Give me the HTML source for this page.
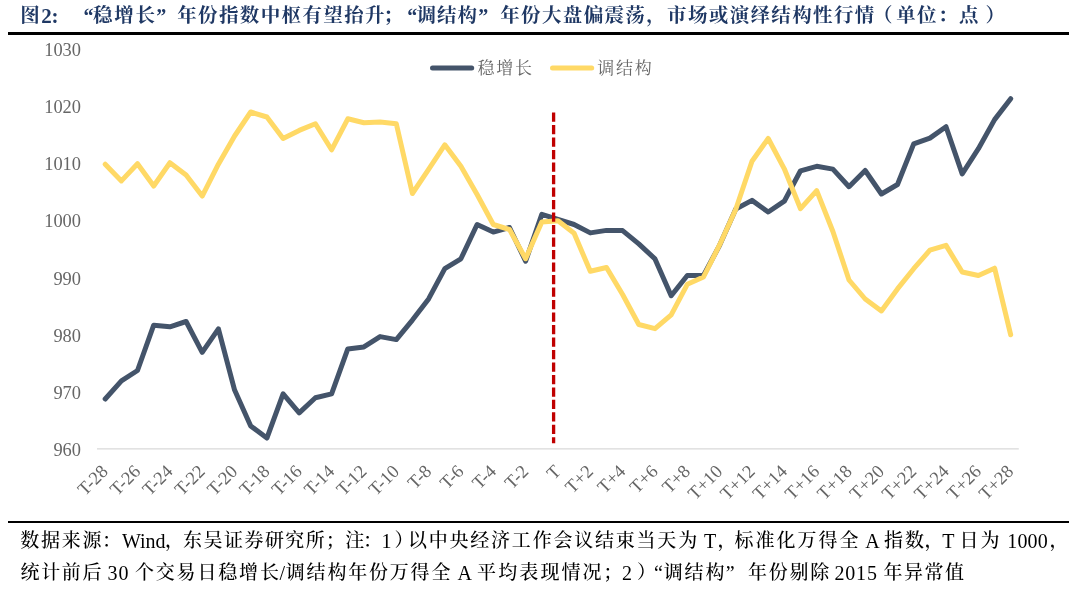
<!DOCTYPE html>
<html lang="zh-CN"><head><meta charset="utf-8"><title>图2</title>
<style>
html,body{margin:0;padding:0;background:#fff;}
body{width:1080px;height:594px;position:relative;overflow:hidden;font-family:"Liberation Serif","Noto Serif CJK SC",serif;}
.ln{position:absolute;left:0;width:1080px;white-space:nowrap;}
.ln span{position:absolute;top:0;white-space:nowrap;}
.title{top:2px;height:28px;line-height:28px;font-size:19.5px;font-weight:bold;color:#1f3864;}
.rule{position:absolute;left:8.3px;width:1061.1px;height:3px;background:#000;}
.foot{font-size:19px;color:#000;font-weight:500;line-height:24px;height:24px;}
svg{position:absolute;left:0;top:0;}
svg text{font-family:"Liberation Serif","Noto Serif CJK SC",serif;font-size:18.4px;fill:#666;}
</style></head><body>
<div class="ln title"><span style="left:20.2px;">图</span><span style="left:41.2px;font-size:21px;">2</span><span style="left:51.5px;font-size:21px;">:</span><span style="left:83.5px;font-size:20px;">“</span><span style="left:93.1px;letter-spacing:1.7px;">稳增长</span><span style="left:156.3px;font-size:20px;">”</span><span style="left:177.2px;letter-spacing:1.37px;">年份指数中枢有望抬升</span><span style="left:383.3px;">；</span><span style="left:407.2px;font-size:20px;">“</span><span style="left:416.6px;letter-spacing:1.0px;">调结构</span><span style="left:478.2px;font-size:20px;">”</span><span style="left:500.2px;letter-spacing:1.36px;">年份大盘偏震荡，市场或演绎结构性行情</span><span style="left:873.1px;">（</span><span style="left:896.2px;letter-spacing:1.43px;">单位：点</span><span style="left:985.4px;">）</span></div>
<div class="rule" style="top:32px"></div>
<svg width="1080" height="594" viewBox="0 0 1080 594">
<line x1="97" y1="448.8" x2="1018.8" y2="448.8" stroke="#d9d9d9" stroke-width="1.3"/>
<g style="font-size:18px"><text x="81" y="55.9" text-anchor="end">1030</text><text x="81" y="113.0" text-anchor="end">1020</text><text x="81" y="170.2" text-anchor="end">1010</text><text x="81" y="227.3" text-anchor="end">1000</text><text x="81" y="284.5" text-anchor="end">990</text><text x="81" y="341.6" text-anchor="end">980</text><text x="81" y="398.8" text-anchor="end">970</text><text x="81" y="455.9" text-anchor="end">960</text></g>
<g><text transform="translate(109.1,472.5) rotate(-45)" text-anchor="end">T-28</text><text transform="translate(141.4,472.5) rotate(-45)" text-anchor="end">T-26</text><text transform="translate(173.8,472.5) rotate(-45)" text-anchor="end">T-24</text><text transform="translate(206.1,472.5) rotate(-45)" text-anchor="end">T-22</text><text transform="translate(238.5,472.5) rotate(-45)" text-anchor="end">T-20</text><text transform="translate(270.8,472.5) rotate(-45)" text-anchor="end">T-18</text><text transform="translate(303.1,472.5) rotate(-45)" text-anchor="end">T-16</text><text transform="translate(335.5,472.5) rotate(-45)" text-anchor="end">T-14</text><text transform="translate(367.8,472.5) rotate(-45)" text-anchor="end">T-12</text><text transform="translate(400.2,472.5) rotate(-45)" text-anchor="end">T-10</text><text transform="translate(432.5,472.5) rotate(-45)" text-anchor="end">T-8</text><text transform="translate(464.8,472.5) rotate(-45)" text-anchor="end">T-6</text><text transform="translate(497.2,472.5) rotate(-45)" text-anchor="end">T-4</text><text transform="translate(529.5,472.5) rotate(-45)" text-anchor="end">T-2</text><text transform="translate(561.9,472.5) rotate(-45)" text-anchor="end">T</text><text transform="translate(594.2,472.5) rotate(-45)" text-anchor="end">T+2</text><text transform="translate(626.5,472.5) rotate(-45)" text-anchor="end">T+4</text><text transform="translate(658.9,472.5) rotate(-45)" text-anchor="end">T+6</text><text transform="translate(691.2,472.5) rotate(-45)" text-anchor="end">T+8</text><text transform="translate(723.6,472.5) rotate(-45)" text-anchor="end">T+10</text><text transform="translate(755.9,472.5) rotate(-45)" text-anchor="end">T+12</text><text transform="translate(788.2,472.5) rotate(-45)" text-anchor="end">T+14</text><text transform="translate(820.6,472.5) rotate(-45)" text-anchor="end">T+16</text><text transform="translate(852.9,472.5) rotate(-45)" text-anchor="end">T+18</text><text transform="translate(885.3,472.5) rotate(-45)" text-anchor="end">T+20</text><text transform="translate(917.6,472.5) rotate(-45)" text-anchor="end">T+22</text><text transform="translate(949.9,472.5) rotate(-45)" text-anchor="end">T+24</text><text transform="translate(982.3,472.5) rotate(-45)" text-anchor="end">T+26</text><text transform="translate(1014.6,472.5) rotate(-45)" text-anchor="end">T+28</text></g>
<polyline points="105.2,399.0 121.4,380.8 137.5,370.5 153.7,325.2 169.9,326.8 186.1,321.5 202.2,352.3 218.4,328.8 234.6,390.1 250.7,426.0 266.9,438.1 283.1,393.9 299.2,412.9 315.4,397.7 331.6,393.9 347.8,348.9 363.9,346.9 380.1,336.6 396.3,339.6 412.4,320.1 428.6,298.9 444.8,268.6 460.9,258.8 477.1,224.5 493.3,232.1 509.5,227.5 525.6,261.2 541.8,214.4 558.0,219.4 574.1,224.5 590.3,232.9 606.5,230.4 622.6,230.6 638.8,243.9 655.0,258.9 671.2,295.7 687.3,275.5 703.5,275.5 719.7,245.1 735.8,209.0 752.0,200.4 768.2,212.0 784.3,201.2 800.5,170.8 816.7,166.3 832.9,169.1 849.0,186.7 865.2,170.5 881.4,194.0 897.5,184.5 913.7,143.9 929.9,138.1 946.0,126.7 962.2,173.9 978.4,148.7 994.6,119.6 1010.7,98.7" fill="none" stroke="#44546a" stroke-width="5" stroke-linejoin="round" stroke-linecap="round"/>
<polyline points="105.2,164.2 121.4,180.9 137.5,163.7 153.7,186.0 169.9,162.7 186.1,175.1 202.2,196.1 218.4,164.2 234.6,136.0 250.7,112.0 266.9,117.0 283.1,138.5 299.2,130.4 315.4,123.8 331.6,149.8 347.8,118.8 363.9,122.8 380.1,122.1 396.3,123.8 412.4,193.5 428.6,169.3 444.8,144.8 460.9,166.3 477.1,194.5 493.3,224.5 509.5,229.5 525.6,258.7 541.8,222.1 558.0,220.8 574.1,233.3 590.3,271.3 606.5,267.5 622.6,294.5 638.8,324.5 655.0,328.7 671.2,314.8 687.3,284.3 703.5,277.0 719.7,244.7 735.8,209.3 752.0,161.2 768.2,138.5 784.3,168.8 800.5,208.7 816.7,190.7 832.9,231.5 849.0,280.0 865.2,299.0 881.4,310.9 897.5,288.9 913.7,268.7 929.9,250.2 946.0,245.4 962.2,272.0 978.4,275.5 994.6,268.2 1010.7,334.8" fill="none" stroke="#ffd966" stroke-width="5" stroke-linejoin="round" stroke-linecap="round"/>
<line x1="553.6" y1="112.6" x2="553.6" y2="443.2" stroke="#c00000" stroke-width="3.3" stroke-dasharray="9.25 3.24"/>
<line x1="432.5" y1="67.9" x2="471.7" y2="67.9" stroke="#44546a" stroke-width="5" stroke-linecap="round"/>
<text x="477.4" y="74.2" style="font-size:17px;letter-spacing:1.8px">稳增长</text>
<line x1="552.5" y1="67.9" x2="591.7" y2="67.9" stroke="#ffd966" stroke-width="5" stroke-linecap="round"/>
<text x="597.2" y="74.2" style="font-size:17px;letter-spacing:1.8px">调结构</text>
</svg>
<div class="rule" style="top:520.6px;height:2.5px"></div>
<div class="ln foot" style="top:529px"><span style="left:20.2px;letter-spacing:1.8px;">数据来源</span><span style="left:102.0px;">：</span><span style="left:121.9px;font-size:20px;">Wind</span><span style="left:165.1px;">，</span><span style="left:183.1px;letter-spacing:1.45px;">东吴证券研究所</span><span style="left:325.7px;">；</span><span style="left:345.2px;">注</span><span style="left:363.0px;">：</span><span style="left:381.5px;font-size:20px;">1</span><span style="left:394.4px;">）</span><span style="left:407.9px;letter-spacing:1.79px;">以中央经济工作会议结束当天为</span><span style="left:704.0px;font-size:20px;">T</span><span style="left:717.6px;">，</span><span style="left:734.5px;letter-spacing:2.0px;">标准化万得全</span><span style="left:865.3px;font-size:20px;">A</span><span style="left:884.0px;letter-spacing:1.95px;">指数</span><span style="left:924.4px;">，</span><span style="left:942.2px;font-size:20px;">T</span><span style="left:959.4px;letter-spacing:2.05px;">日为</span><span style="left:1007.3px;letter-spacing:0.15px;font-size:20px;">1000</span><span style="left:1049.4px;">，</span></div>
<div class="ln foot" style="top:561px"><span style="left:20.5px;letter-spacing:1.65px;">统计前后</span><span style="left:107.4px;letter-spacing:1.0px;font-size:20px;">30</span><span style="left:134.9px;letter-spacing:1.84px;">个交易日稳增长</span><span style="left:279.4px;font-size:20px;">/</span><span style="left:285.8px;letter-spacing:1.8px;">调结构年份万得全</span><span style="left:457.5px;font-size:20px;">A</span><span style="left:477.1px;letter-spacing:2.1px;">平均表现情况</span><span style="left:603.2px;">；</span><span style="left:621.9px;font-size:20px;">2</span><span style="left:636.9px;">）</span><span style="left:654.1px;font-size:20px;">“</span><span style="left:663.8px;letter-spacing:1.8px;">调结构</span><span style="left:725.7px;font-size:20px;">”</span><span style="left:747.9px;letter-spacing:1.8px;">年份剔除</span><span style="left:834.4px;letter-spacing:0.85px;font-size:20px;">2015</span><span style="left:883.5px;letter-spacing:1.5px;">年异常值</span></div>
</body></html>
